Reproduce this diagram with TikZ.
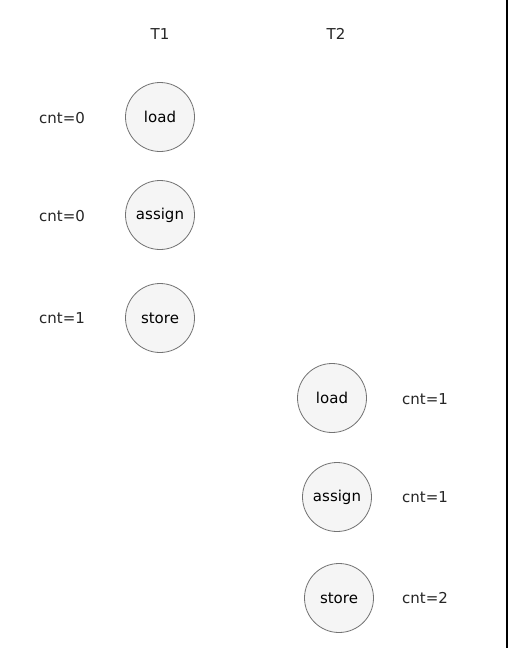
\documentclass[tikz,border=0pt]{standalone}
\usepackage{fontspec}
\setmainfont{DejaVu Sans}
\begin{document}
\begin{tikzpicture}[x=1pt,y=-1pt,
  op/.style={circle,draw=black!55,fill=black!4,line width=0.8pt,minimum size=69pt,inner sep=0pt,font=\fontsize{15}{18}\selectfont},
  lbl/.style={font=\fontsize{15}{18}\selectfont,inner sep=0pt,text=black!85}]
\useasboundingbox (0,0) rectangle (508,648);
\fill[white] (0,0) rectangle (508,648);
\fill[black] (506,0) rectangle (508,648);
\node[lbl] (t1) at (160,34) {T1};
\node[lbl] (t2) at (336,34) {T2};
\node[op] (l1) at (160,117) {load};
\node[op] (a1) at (160,215) {assign};
\node[op] (s1) at (160,318) {store};
\node[op] (l2) at (332,398) {load};
\node[op] (a2) at (337,497) {assign};
\node[op] (s2) at (339,598) {store};
\node[lbl] (c1) at (62,118) {cnt=0};
\node[lbl] (c2) at (62,216) {cnt=0};
\node[lbl] (c3) at (62,318) {cnt=1};
\node[lbl] (c4) at (425,399) {cnt=1};
\node[lbl] (c5) at (425,497) {cnt=1};
\node[lbl] (c6) at (425,598) {cnt=2};
\end{tikzpicture}
\end{document}
